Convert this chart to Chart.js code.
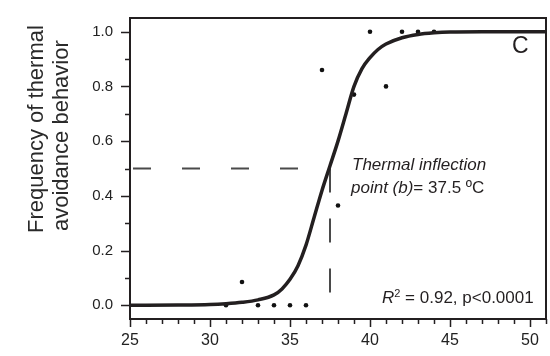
<!DOCTYPE html>
<html>
<head>
<meta charset="utf-8">
<script src="https://cdn.jsdelivr.net/npm/chart.js@4.4.1/dist/chart.umd.min.js"></script>
<style>
  body { margin: 0; background: #fff; }
  #wrap { width: 550px; height: 356px; position: relative; }
</style>
</head>
<body>
<div id="wrap"><canvas id="fitChart"></canvas></div>
<script>
// observed frequency of avoidance at each temperature
var tempObs = [31, 32, 33, 34, 35, 36, 37, 38, 39, 40, 41, 42, 43, 44];
var freqObs = [0, 0.085, 0, 0, 0, 0, 0.86, 0.365, 0.77, 1.0, 0.80, 1.0, 1.0, 1.0];

// fitted sigmoid
var curveTemp = [25, 28, 30, 31, 32, 33, 34, 34.5, 35, 35.5, 36, 36.5, 37, 37.5, 38, 38.5, 39, 39.5, 40, 40.5, 41, 42, 43, 44, 45, 47, 51];
var curveFreq = [0, 0.001, 0.003, 0.006, 0.011, 0.02, 0.038, 0.06, 0.095, 0.145, 0.22, 0.32, 0.42, 0.51, 0.6, 0.7, 0.8, 0.865, 0.905, 0.935, 0.955, 0.978, 0.99, 0.996, 0.999, 1.0, 1.0];

// inflection point (b)
var inflectionTemp = 37.5;
var inflectionFreq = 0.5;

// tick labels
var xTicks = [25, 30, 35, 40, 45, 50];
var yTicks = [0, 0.2, 0.4, 0.6, 0.8, 1.0];

var fontFam = '"Liberation Sans", Arial, sans-serif';

function pairs(xs, ys) {
  return xs.map(function(x, i) { return { x: x, y: ys[i] }; });
}

// draw a line of text made of several font runs
function drawRuns(ctx, x, y, runs) {
  runs.forEach(function(r) {
    ctx.font = r.font;
    ctx.fillText(r.text, x, y + (r.dy || 0));
    x += ctx.measureText(r.text).width;
  });
}

// frame, minor/major ticks, annotations
var framePlugin = {
  id: 'frame',
  afterDraw: function(chart) {
    var ctx = chart.ctx, a = chart.chartArea;
    var xs = chart.scales.x, ys = chart.scales.y;
    ctx.save();
    ctx.strokeStyle = '#231f20';
    ctx.lineWidth = 2;
    ctx.strokeRect(a.left, a.top, a.right - a.left, a.bottom - a.top);

    ctx.lineWidth = 1.5;
    ctx.beginPath();
    for (var v = 25; v <= 51; v++) {
      var px = Math.round(xs.getPixelForValue(v)) + 0.5;
      var len = v % 5 === 0 ? 8 : 5;
      ctx.moveTo(px, a.bottom);
      ctx.lineTo(px, a.bottom + len);
    }
    for (var k = 0; k <= 10; k++) {
      var py = Math.round(ys.getPixelForValue(k / 10)) + 0.5;
      var ylen = k % 2 === 0 ? 9 : 5;
      ctx.moveTo(a.left, py);
      ctx.lineTo(a.left - ylen, py);
    }
    ctx.stroke();

    // y axis title, two lines
    ctx.fillStyle = '#2a2a2a';
    ctx.save();
    ctx.translate(37, 233);
    ctx.rotate(-Math.PI / 2);
    ctx.textAlign = 'left';
    ctx.textBaseline = 'middle';
    ctx.font = '22px ' + fontFam;
    ctx.fillText('Frequency of thermal', 0, 0);
    ctx.fillText('avoidance behavior', 2, 25);
    ctx.restore();

    // annotations
    ctx.fillStyle = '#231f20';
    ctx.textAlign = 'left';
    ctx.textBaseline = 'alphabetic';
    ctx.font = '23px ' + fontFam;
    ctx.fillText('C', 512, 53);

    drawRuns(ctx, 352, 170, [{ text: 'Thermal inflection', font: 'italic 17px ' + fontFam }]);
    drawRuns(ctx, 351, 193, [
      { text: 'point (b)', font: 'italic 17px ' + fontFam },
      { text: '= 37.5 ', font: '17px ' + fontFam },
      { text: 'º', font: '17px ' + fontFam },
      { text: 'C', font: '17px ' + fontFam }
    ]);
    drawRuns(ctx, 382, 303, [
      { text: 'R', font: 'italic 17px ' + fontFam },
      { text: '2', font: '11px ' + fontFam, dy: -6 },
      { text: ' = 0.92, p<0.0001', font: '17px ' + fontFam }
    ]);
    ctx.restore();
  }
};

var ctx = document.getElementById('fitChart').getContext('2d');
new Chart(ctx, {
  type: 'scatter',
  data: {
    datasets: [
      {
        label: 'fit',
        data: pairs(curveTemp, curveFreq),
        showLine: true,
        borderColor: '#231f20',
        borderWidth: 3.5,
        pointRadius: 0,
        cubicInterpolationMode: 'monotone'
      },
      {
        label: 'observed',
        data: pairs(tempObs, freqObs),
        pointRadius: 2.3,
        pointBackgroundColor: '#111',
        pointBorderWidth: 0
      },
      {
        label: 'b horizontal',
        data: [{ x: 25, y: inflectionFreq }, { x: inflectionTemp, y: inflectionFreq }],
        showLine: true,
        borderColor: '#4a4a4a',
        borderWidth: 2,
        borderDash: [18, 31],
        borderDashOffset: 46,
        pointRadius: 0
      },
      {
        label: 'b vertical',
        data: [{ x: inflectionTemp, y: inflectionFreq }, { x: inflectionTemp, y: -0.05 }],
        showLine: true,
        borderColor: '#4a4a4a',
        borderWidth: 2,
        borderDash: [24, 26],
        pointRadius: 0
      }
    ]
  },
  options: {
    responsive: true,
    maintainAspectRatio: false,
    animation: false,
    layout: { padding: { top: 8, right: 2, left: 0, bottom: 0 } },
    plugins: { legend: { display: false }, tooltip: { enabled: false } },
    scales: {
      x: {
        type: 'linear',
        min: 25,
        max: 51,
        afterBuildTicks: function(s) { s.ticks = xTicks.map(function(v) { return { value: v }; }); },
        afterFit: function(s) { s.height = 37; },
        grid: { color: 'rgba(0,0,0,0)', drawOnChartArea: false, tickLength: 8 },
        border: { display: false },
        ticks: {
          color: '#222',
          font: { size: 16, family: fontFam },
          padding: 4,
          maxRotation: 0,
          autoSkip: false,
          callback: function(v) { return String(v); }
        }
      },
      y: {
        type: 'linear',
        min: -0.05,
        max: 1.05,
        afterBuildTicks: function(s) { s.ticks = yTicks.map(function(v) { return { value: v }; }); },
        afterFit: function(s) { s.width = 130; },
        grid: { color: 'rgba(0,0,0,0)', drawOnChartArea: false, tickLength: 8 },
        border: { display: false },
        ticks: {
          color: '#222',
          font: { size: 15, family: fontFam },
          padding: 9,
          autoSkip: false,
          callback: function(v) { return v.toFixed(1); }
        }
      }
    }
  },
  plugins: [framePlugin]
});
</script>
</body>
</html>
